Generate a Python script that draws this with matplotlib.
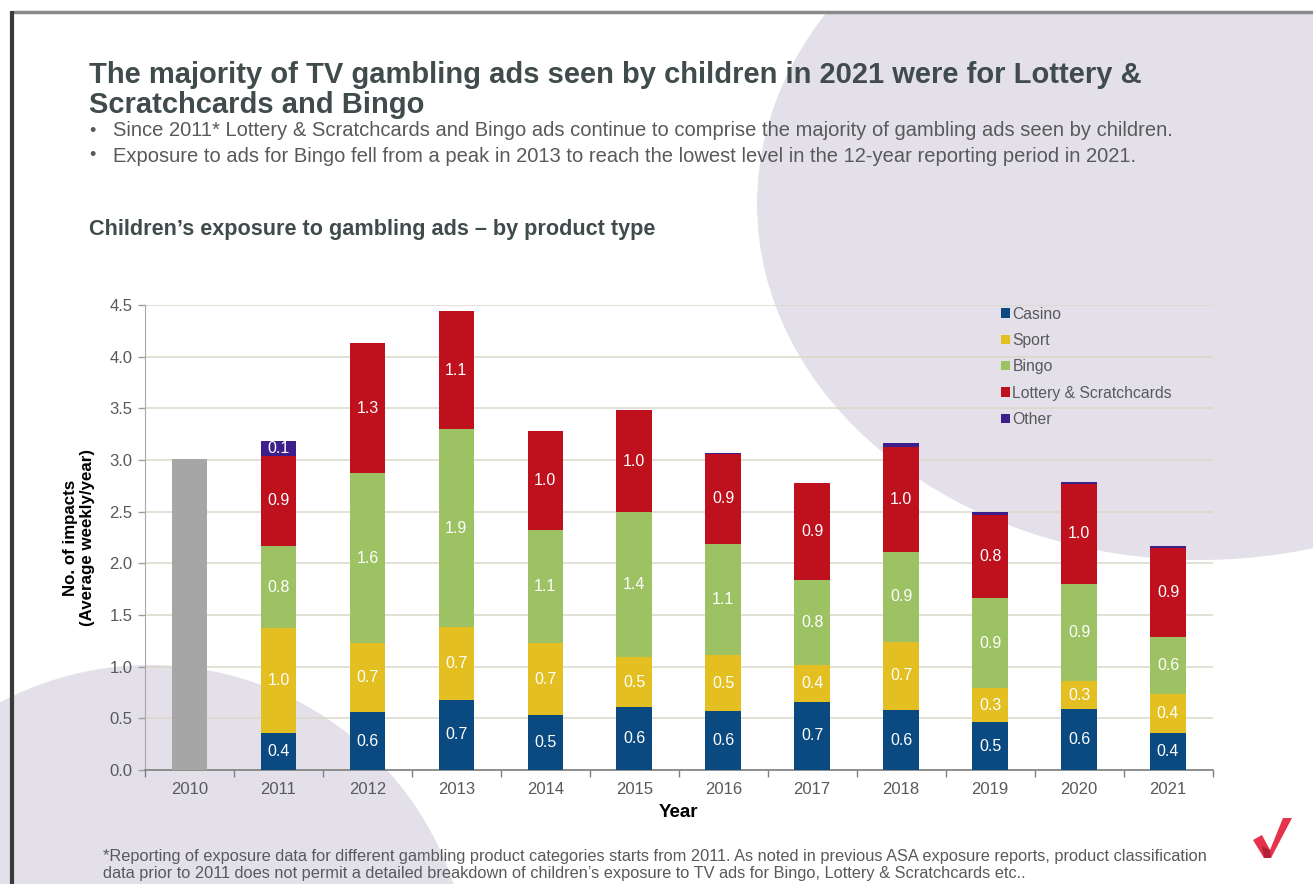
import matplotlib
matplotlib.use("Agg")
import matplotlib.pyplot as plt
import numpy as np
from matplotlib.patches import Ellipse, Circle, Polygon, Patch

plt.rcParams['font.family'] = ['Liberation Sans', 'DejaVu Sans']

# ---------------- data ----------------
years = ['2010', '2011', '2012', '2013', '2014', '2015', '2016', '2017', '2018', '2019', '2020', '2021']
all_products = [3.01, 0, 0, 0, 0, 0, 0, 0, 0, 0, 0, 0]
casino  = [0, 0.36, 0.56, 0.68, 0.53, 0.61, 0.57, 0.66, 0.58, 0.46, 0.59, 0.36]
sport   = [0, 1.01, 0.67, 0.70, 0.70, 0.48, 0.54, 0.36, 0.66, 0.33, 0.27, 0.38]
bingo   = [0, 0.80, 1.64, 1.92, 1.09, 1.41, 1.08, 0.82, 0.87, 0.87, 0.94, 0.55]
lottery = [0, 0.87, 1.26, 1.14, 0.96, 0.98, 0.87, 0.94, 1.02, 0.81, 0.97, 0.86]
other   = [0, 0.14, 0, 0, 0, 0, 0.01, 0, 0.03, 0.03, 0.02, 0.02]
series_names = ['Casino', 'Sport', 'Bingo', 'Lottery & Scratchcards', 'Other']
y_ticks = [0.0, 0.5, 1.0, 1.5, 2.0, 2.5, 3.0, 3.5, 4.0, 4.5]

title = ("The majority of TV gambling ads seen by children in 2021 were for Lottery &\n"
         "Scratchcards and Bingo")
bullets = ["Since 2011* Lottery & Scratchcards and Bingo ads continue to comprise the majority of gambling ads seen by children.",
           "Exposure to ads for Bingo fell from a peak in 2013 to reach the lowest level in the 12-year reporting period in 2021."]
subtitle = "Children\u2019s exposure to gambling ads \u2013 by product type"
footnote = ("*Reporting of exposure data for different gambling product categories starts from 2011. As noted in previous ASA exposure reports, product classification\n"
            "data prior to 2011 does not permit a detailed breakdown of children\u2019s exposure to TV ads for Bingo, Lottery & Scratchcards etc..")

colors = ['#0B4A80', '#E3BF22', '#9DC263', '#BE111D', '#3C1F8A']
gray = '#A6A6A6'
lav = '#E3E0EA'
text_dark = '#404B4B'
text_gray = '#595959'

W, H = 1313, 884
fig = plt.figure(figsize=(W / 100, H / 100), dpi=100)
fig.patch.set_facecolor('white')

def fx(px):
    return px / W

def fy(py):
    return 1 - py / H

# background decorative shapes (pixel coordinates)
bg = fig.add_axes([0, 0, 1, 1], zorder=-10)
bg.set_xlim(0, W)
bg.set_ylim(H, 0)
bg.axis('off')
bg.add_patch(Ellipse((1200, 204), 2 * 443, 2 * 356, facecolor=lav, edgecolor='none'))
bg.add_patch(Circle((150, 985), 320, facecolor=lav, edgecolor='none'))
bg.add_patch(Polygon([(0, 0), (W, 0), (W, 11), (0, 11)], closed=True, facecolor='white', edgecolor='none'))
bg.plot([12, W], [12, 12], color='#8A8A8A', lw=2.5, solid_capstyle='butt')
bg.plot([11.5, 11.5], [11, H], color='#3A3A3A', lw=3, solid_capstyle='butt')
# logo check mark
bg.add_patch(Polygon([(1253, 840), (1262, 835), (1270, 850), (1283, 818), (1292, 818), (1271, 858), (1264, 858)],
                     closed=True, facecolor='#E6334B', edgecolor='none'))
bg.add_patch(Polygon([(1262, 846), (1270, 850), (1271, 858), (1264, 858)],
                     closed=True, facecolor='#B32039', edgecolor='none'))

# texts
fig.text(fx(89), fy(61), title, fontsize=21, fontweight='bold', color=text_dark,
         va='top', ha='left', linespacing=1.1)
for i, b in enumerate(bullets):
    yy = fy(131 + 25 * i)
    fig.text(fx(89), yy, '\u2022', fontsize=13, color=text_gray, va='center', ha='left')
    fig.text(fx(113), yy, b, fontsize=14.5, color=text_gray, va='center', ha='left')
fig.text(fx(89), fy(229), subtitle, fontsize=15.6, fontweight='bold', color=text_dark, va='center', ha='left')
fig.text(fx(103), fy(865), footnote, fontsize=11.8, color=text_gray, va='center', ha='left', linespacing=1.15)

# chart
ax = fig.add_axes([fx(145), fy(770), fx(1212.5) - fx(145), fy(305) - fy(770)])
ax.set_facecolor('none')
x = np.arange(len(years))
bw = 0.4
ax.bar(x, all_products, width=bw, color=gray, zorder=3)
bottom = np.zeros(len(years))
stack = [casino, sport, bingo, lottery, other]
for vals, c in zip(stack, colors):
    vals = np.array(vals, dtype=float)
    ax.bar(x, vals, width=bw, bottom=bottom, color=c, zorder=3)
    for xi, v, b0 in zip(x, vals, bottom):
        if v >= 0.1:
            ax.text(xi, b0 + v / 2, f"{v:.1f}", ha='center', va='center', color='white',
                    fontsize=11.5, zorder=4)
    bottom = bottom + vals

ax.set_xlim(-0.5, len(years) - 0.5)
ax.set_ylim(0, 4.5)
ax.set_yticks(y_ticks)
ax.set_yticklabels([f"{t:.1f}" for t in y_ticks])
ax.set_xticks(x)
ax.set_xticklabels(years)
ax.set_xticks(np.arange(-0.5, len(years), 1.0), minor=True)
ax.tick_params(axis='x', which='major', length=0, pad=9, labelsize=12, labelcolor=text_gray)
ax.tick_params(axis='x', which='minor', length=5, width=1, color='#7F7F7F', direction='out')
ax.tick_params(axis='y', length=5, width=1, color='#A0A0A0', labelsize=12, labelcolor=text_gray, pad=4)
ax.grid(axis='y', color='#DAD8C9', lw=1.1, zorder=0)
ax.set_axisbelow(True)
for s in ['top', 'right']:
    ax.spines[s].set_visible(False)
ax.spines['left'].set_color('#A8A8A8')
ax.spines['bottom'].set_color('#7F7F7F')
ax.spines['bottom'].set_linewidth(1.2)
ax.set_xlabel('Year', fontsize=13.5, fontweight='bold', color='black', labelpad=5)
ax.set_ylabel('No. of impacts\n(Average weekly/year)', fontsize=12.2, fontweight='bold', color='black',
              labelpad=10, linespacing=1.2)

handles = [Patch(facecolor=c, edgecolor='none') for c in colors]
leg = ax.legend(handles, series_names, loc='upper left', bbox_to_anchor=((995 - 145) / (1212.5 - 145), 1.01),
                frameon=False, fontsize=11.3, handlelength=0.55, handleheight=0.55, handletextpad=0.15,
                labelspacing=0.72, borderaxespad=0)
for t in leg.get_texts():
    t.set_color(text_gray)

fig.savefig('out.png', dpi=100, facecolor='white')
